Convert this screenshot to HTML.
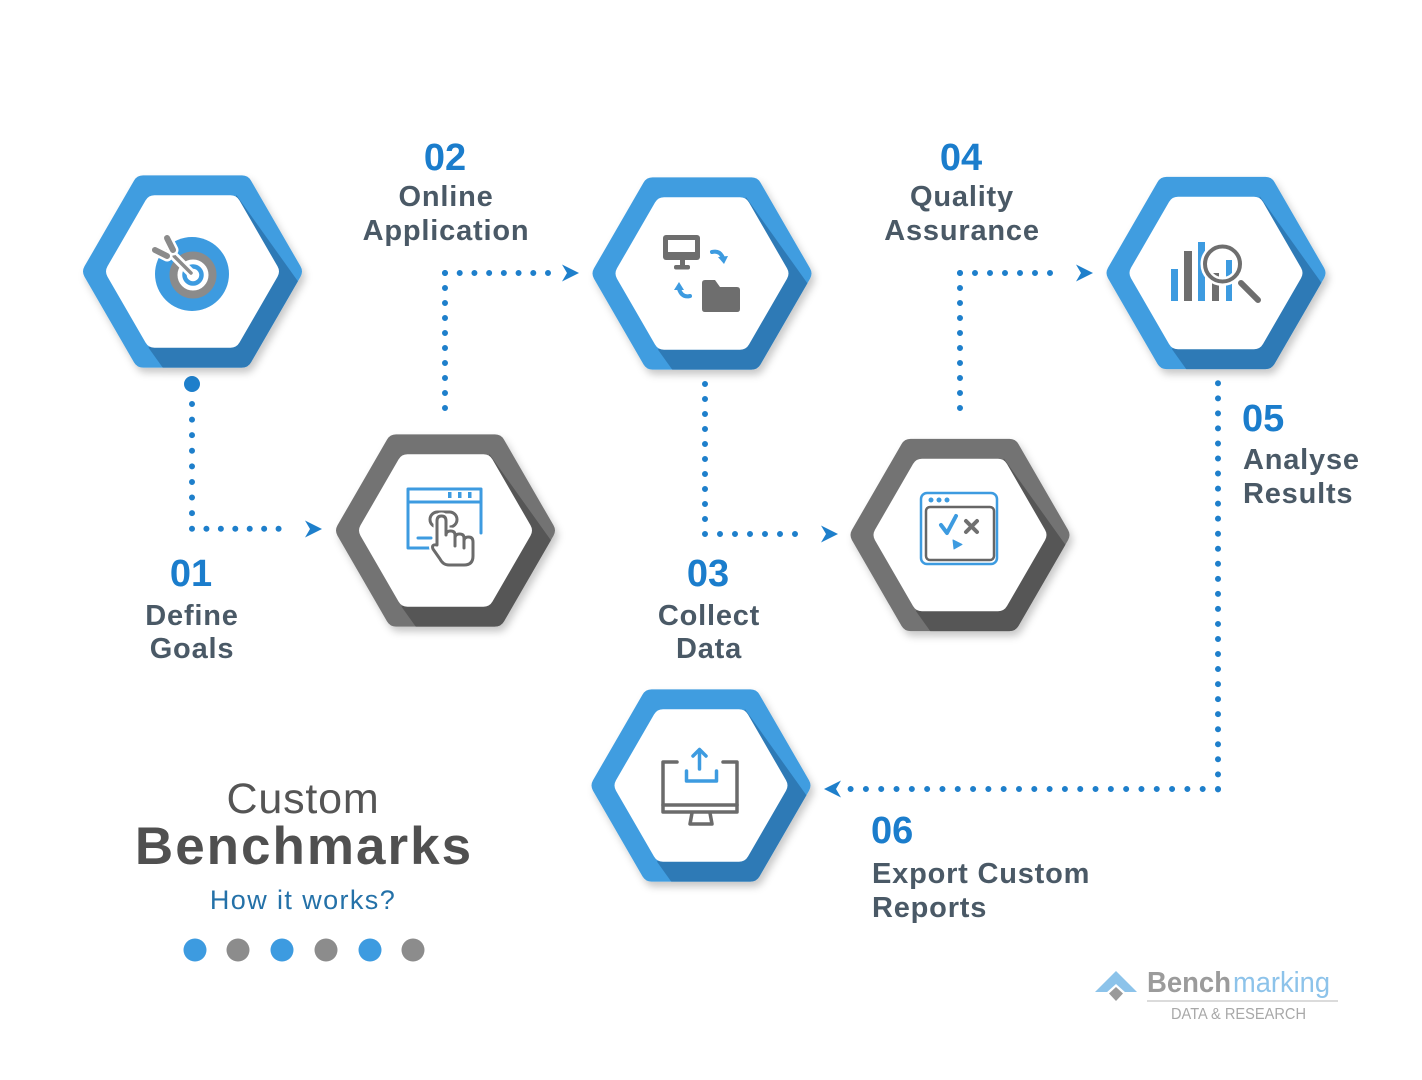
<!DOCTYPE html>
<html>
<head>
<meta charset="utf-8">
<style>
html,body{margin:0;padding:0;background:#fff;}
svg{display:block;}
.num{font-family:"Liberation Sans",sans-serif;font-weight:bold;font-size:38px;fill:#1b7dcc;}
.lbl{font-family:"Liberation Sans",sans-serif;font-weight:bold;font-size:29px;fill:#4a5966;letter-spacing:0.8px;}
</style>
</head>
<body>
<svg width="1422" height="1080" viewBox="0 0 1422 1080" xmlns="http://www.w3.org/2000/svg">
<defs>
  <filter id="sh" x="-30%" y="-30%" width="160%" height="160%">
    <feDropShadow dx="3" dy="5" stdDeviation="4" flood-color="#000" flood-opacity="0.22"/>
  </filter>
  <clipPath id="co">
    <path d="M108,-5.2 Q111,0 108,5.2 L58.5,90.93 Q55.5,96.13 49.5,96.13 L-49.5,96.13 Q-55.5,96.13 -58.5,90.93 L-108,5.2 Q-111,0 -108,-5.2 L-58.5,-90.93 Q-55.5,-96.13 -49.5,-96.13 L49.5,-96.13 Q55.5,-96.13 58.5,-90.93 Z"/>
  </clipPath>
  <g id="hb">
    <path fill="#3f9de0" d="M108,-5.2 Q111,0 108,5.2 L58.5,90.93 Q55.5,96.13 49.5,96.13 L-49.5,96.13 Q-55.5,96.13 -58.5,90.93 L-108,5.2 Q-111,0 -108,-5.2 L-58.5,-90.93 Q-55.5,-96.13 -49.5,-96.13 L49.5,-96.13 Q55.5,-96.13 58.5,-90.93 Z"/>
    <polygon clip-path="url(#co)" fill="#2e7ab6" points="44,-76.2 144,63.8 188,140 144,216.2 56,216.2 -44,76.2"/>
    <path fill="#fff" d="M85,-5.2 Q88,0 85,5.2 L47,71.01 Q44,76.21 38,76.21 L-38,76.21 Q-44,76.21 -47,71.01 L-85,5.2 Q-88,0 -85,-5.2 L-47,-71.01 Q-44,-76.21 -38,-76.21 L38,-76.21 Q44,-76.21 47,-71.01 Z"/>
  </g>
  <g id="hg">
    <path fill="#737373" d="M108,-5.2 Q111,0 108,5.2 L58.5,90.93 Q55.5,96.13 49.5,96.13 L-49.5,96.13 Q-55.5,96.13 -58.5,90.93 L-108,5.2 Q-111,0 -108,-5.2 L-58.5,-90.93 Q-55.5,-96.13 -49.5,-96.13 L49.5,-96.13 Q55.5,-96.13 58.5,-90.93 Z"/>
    <polygon clip-path="url(#co)" fill="#575757" points="44,-76.2 144,63.8 188,140 144,216.2 56,216.2 -44,76.2"/>
    <path fill="#fff" d="M85,-5.2 Q88,0 85,5.2 L47,71.01 Q44,76.21 38,76.21 L-38,76.21 Q-44,76.21 -47,71.01 L-85,5.2 Q-88,0 -85,-5.2 L-47,-71.01 Q-44,-76.21 -38,-76.21 L38,-76.21 Q44,-76.21 47,-71.01 Z"/>
  </g>
</defs>

<!-- connectors -->
<g stroke="#1e7fcb" stroke-width="6" stroke-linecap="round" fill="none">
  <line x1="192" y1="404" x2="192" y2="528.7" stroke-dasharray="0 15.59"/>
  <line x1="192" y1="528.7" x2="293" y2="528.7" stroke-dasharray="0 14.43"/>
  <line x1="445" y1="273" x2="445" y2="423" stroke-dasharray="0 15"/>
  <line x1="445" y1="273" x2="548" y2="273" stroke-dasharray="0 14.714"/>
  <line x1="705" y1="384" x2="705" y2="534" stroke-dasharray="0 15"/>
  <line x1="705" y1="534" x2="810" y2="534" stroke-dasharray="0 15"/>
  <line x1="960" y1="273" x2="960" y2="423" stroke-dasharray="0 15"/>
  <line x1="960" y1="273" x2="1065" y2="273" stroke-dasharray="0 15"/>
  <line x1="1218" y1="383.3" x2="1218" y2="789.4" stroke-dasharray="0 15.04"/>
  <line x1="1218" y1="789" x2="850.6" y2="789" stroke-dasharray="0 15.308"/>
</g>
<circle cx="192" cy="384" r="8" fill="#1e7fcb"/>
<g fill="#1e7fcb">
  <polygon points="305,520.5 322,529 305,537.5 310,529"/>
  <polygon points="562,264.5 579,273 562,281.5 567,273"/>
  <polygon points="821,525.5 838,534 821,542.5 826,534"/>
  <polygon points="1076,264.5 1093,273 1076,281.5 1081,273"/>
  <polygon points="841,780.5 824,789 841,797.5 836,789"/>
</g>

<!-- hexagons -->
<use href="#hb" x="192.5" y="271.5" filter="url(#sh)"/>
<use href="#hg" x="445.5" y="530.5" filter="url(#sh)"/>
<use href="#hb" x="702" y="273.5" filter="url(#sh)"/>
<use href="#hg" x="960" y="535" filter="url(#sh)"/>
<use href="#hb" x="1216" y="273" filter="url(#sh)"/>
<use href="#hb" x="701" y="785.5" filter="url(#sh)"/>

<!-- icon 1: target -->
<g>
  <circle cx="192" cy="274" r="37" fill="#3d9be0"/>
  <circle cx="193" cy="275" r="19.5" fill="#fff" stroke="#8b8b8b" stroke-width="8"/>
  <circle cx="193" cy="275" r="8.5" fill="#fff" stroke="#3d9be0" stroke-width="4.5"/>
  <line x1="191" y1="273" x2="168" y2="250" stroke="#fff" stroke-width="9" stroke-linecap="round"/>
  <line x1="191" y1="273" x2="168" y2="250" stroke="#8b8b8b" stroke-width="3.5" stroke-linecap="round"/>
  <path d="M167,238 L173,250" stroke="#fff" stroke-width="11" stroke-linecap="round"/>
  <path d="M155,250 L167,256" stroke="#fff" stroke-width="11" stroke-linecap="round"/>
  <path d="M167,238 L173,250" stroke="#8b8b8b" stroke-width="6" stroke-linecap="round"/>
  <path d="M155,250 L167,256" stroke="#8b8b8b" stroke-width="6" stroke-linecap="round"/>
</g>

<!-- icon 2: browser + hand -->
<g fill="none" stroke-linecap="round" stroke-linejoin="round">
  <path d="M481,533 L481,489 L408,489 L408,548 L437,548" stroke="#3d9be0" stroke-width="3"/>
  <line x1="408" y1="502" x2="481" y2="502" stroke="#3d9be0" stroke-width="3"/>
  <g fill="#3d9be0" stroke="none">
    <rect x="448" y="492" width="3.5" height="6"/>
    <rect x="458" y="492" width="3.5" height="6"/>
    <rect x="468" y="492" width="3.5" height="6"/>
  </g>
  <line x1="418" y1="538" x2="431" y2="538" stroke="#3d9be0" stroke-width="3"/>
  <rect x="430" y="512" width="27" height="15" rx="7.5" fill="#fff" stroke="#6b6b6b" stroke-width="3"/>
  <path d="M437,545 L437,521 Q437,516 441.5,516 Q446,516 446,521 L446,535 Q446,531 450.5,531 Q455,531 455,535 L455,538 Q455,534 459.5,534 Q464,534 464,538 L464,541 Q464,537 468.5,537 Q473,537 473,542 L473,556 Q473,565 464,565 L449,565 Q443,565 440,559 L433,549 Q431,544 437,545 Z" fill="#fff" stroke="#fff" stroke-width="7"/>
  <path d="M437,545 L437,521 Q437,516 441.5,516 Q446,516 446,521 L446,535 Q446,531 450.5,531 Q455,531 455,535 L455,538 Q455,534 459.5,534 Q464,534 464,538 L464,541 Q464,537 468.5,537 Q473,537 473,542 L473,556 Q473,565 464,565 L449,565 Q443,565 440,559 L433,549 Q431,544 437,545 Z" fill="#fff" stroke="#6b6b6b" stroke-width="3"/>
  <line x1="455" y1="538" x2="455" y2="546" stroke="#6b6b6b" stroke-width="3"/>
  <line x1="464" y1="541" x2="464" y2="548" stroke="#6b6b6b" stroke-width="3"/>
</g>

<!-- icon 3: monitor + folder -->
<g>
  <rect x="663" y="235" width="37" height="25" rx="3" fill="#6e6e6e"/>
  <rect x="668" y="240" width="27" height="12" fill="#fff"/>
  <rect x="680" y="259" width="5" height="7" fill="#6e6e6e"/>
  <rect x="674" y="265" width="16" height="4.5" rx="2" fill="#6e6e6e"/>
  <path d="M702,283 Q702,280 705,280 L715,280 L720,287 L737,287 Q740,287 740,290 L740,309 Q740,312 737,312 L705,312 Q702,312 702,309 Z" fill="#6e6e6e"/>
  <path d="M712,252 Q720,250 723,258" fill="none" stroke="#3d9be0" stroke-width="4" stroke-linecap="round"/>
  <polygon points="718,257 728,256 724,264" fill="#3d9be0"/>
  <path d="M690,296 Q682,298 679,289" fill="none" stroke="#3d9be0" stroke-width="4" stroke-linecap="round"/>
  <polygon points="674,290 679,282 684,290" fill="#3d9be0"/>
</g>

<!-- icon 4: browser check x -->
<g fill="none" stroke-linecap="round" stroke-linejoin="round">
  <rect x="921" y="493" width="76" height="71" rx="6" stroke="#3d9be0" stroke-width="2.5"/>
  <circle cx="931" cy="500" r="2.5" fill="#3d9be0" stroke="none"/>
  <circle cx="939" cy="500" r="2.5" fill="#3d9be0" stroke="none"/>
  <circle cx="947" cy="500" r="2.5" fill="#3d9be0" stroke="none"/>
  <rect x="926" y="507" width="68" height="53" rx="4" stroke="#666" stroke-width="2.5"/>
  <path d="M941,525 L947,533 L956,516" stroke="#3d9be0" stroke-width="4"/>
  <path d="M966,521 L977,532 M977,521 L966,532" stroke="#707070" stroke-width="4"/>
  <polygon points="953,540 962,544.5 954,549" fill="#3d9be0" stroke="#3d9be0" stroke-width="1"/>
</g>

<!-- icon 5: bars + magnifier -->
<g>
  <rect x="1171" y="269" width="7" height="32" fill="#3d9be0"/>
  <rect x="1184" y="251" width="8" height="50" fill="#6e6e6e"/>
  <rect x="1198" y="242" width="7" height="59" fill="#3d9be0"/>
  <rect x="1212" y="273" width="7" height="28" fill="#6e6e6e"/>
  <rect x="1226" y="260" width="6" height="41" fill="#3d9be0"/>
  <circle cx="1222.5" cy="264" r="17.5" fill="none" stroke="#fff" stroke-width="9"/>
  <circle cx="1222.5" cy="264" r="17.5" fill="none" stroke="#6e6e6e" stroke-width="4"/>
  <line x1="1241" y1="283" x2="1258" y2="300" stroke="#6e6e6e" stroke-width="6" stroke-linecap="round"/>
</g>

<!-- icon 6: monitor upload -->
<g fill="none" stroke-linecap="round" stroke-linejoin="round">
  <path d="M677,762 L663,762 L663,812 L737,812 L737,762 L723,762" stroke="#6b6b6b" stroke-width="3.5"/>
  <line x1="663" y1="805" x2="737" y2="805" stroke="#6b6b6b" stroke-width="3.5"/>
  <path d="M692,813 L690,824 L712,824 L710,813" stroke="#6b6b6b" stroke-width="3.5"/>
  <line x1="699.5" y1="750" x2="699.5" y2="769" stroke="#3d9be0" stroke-width="3.5"/>
  <path d="M693,756 L699.5,749.5 L706,756" stroke="#3d9be0" stroke-width="3.5"/>
  <path d="M686.5,771 L686.5,781 L716.5,781 L716.5,771" stroke="#3d9be0" stroke-width="3.5"/>
</g>

<!-- labels -->
<text class="num" x="445" y="170" text-anchor="middle">02</text>
<text class="lbl" x="446" y="206" text-anchor="middle">Online</text>
<text class="lbl" x="446" y="240" text-anchor="middle">Application</text>

<text class="num" x="961" y="170" text-anchor="middle">04</text>
<text class="lbl" x="962" y="206" text-anchor="middle">Quality</text>
<text class="lbl" x="962" y="240" text-anchor="middle">Assurance</text>

<text class="num" x="191" y="586" text-anchor="middle">01</text>
<text class="lbl" x="192" y="625" text-anchor="middle">Define</text>
<text class="lbl" x="192" y="658" text-anchor="middle">Goals</text>

<text class="num" x="708" y="586" text-anchor="middle">03</text>
<text class="lbl" x="709" y="625" text-anchor="middle">Collect</text>
<text class="lbl" x="709" y="658" text-anchor="middle">Data</text>

<text class="num" x="1242" y="431">05</text>
<text class="lbl" x="1243" y="469">Analyse</text>
<text class="lbl" x="1243" y="503">Results</text>

<text class="num" x="871" y="843">06</text>
<text class="lbl" x="872" y="883">Export Custom</text>
<text class="lbl" x="872" y="917">Reports</text>

<!-- title -->
<text x="303" y="813" text-anchor="middle" font-family="Liberation Sans, sans-serif" font-size="43" fill="#555" letter-spacing="0.8">Custom</text>
<text x="304" y="864" text-anchor="middle" font-family="Liberation Sans, sans-serif" font-weight="bold" font-size="53" fill="#505050" letter-spacing="2">Benchmarks</text>
<text x="303" y="909" text-anchor="middle" font-family="Liberation Sans, sans-serif" font-size="27" fill="#2471a8" letter-spacing="1.4">How it works?</text>

<circle cx="195" cy="950" r="11.5" fill="#3d9be0"/>
<circle cx="238" cy="950" r="11.5" fill="#8c8c8c"/>
<circle cx="282" cy="950" r="11.5" fill="#3d9be0"/>
<circle cx="326" cy="950" r="11.5" fill="#8c8c8c"/>
<circle cx="370" cy="950" r="11.5" fill="#3d9be0"/>
<circle cx="413" cy="950" r="11.5" fill="#8c8c8c"/>

<!-- logo -->
<polygon points="1095,992 1116,971 1137,992" fill="#8cc3ea"/>
<polygon points="1116,984 1126,993 1116,1003 1106,993" fill="#fff"/>
<polygon points="1116,987 1123,993.5 1116,1001 1109,993.5" fill="#9a9a9a"/>
<text x="1147" y="992" font-family="Liberation Sans, sans-serif" font-weight="bold" font-size="29" fill="#9b9b9b" textLength="84" lengthAdjust="spacingAndGlyphs">Bench</text>
<text x="1233" y="992" font-family="Liberation Sans, sans-serif" font-size="29" fill="#8dc3ea" textLength="97" lengthAdjust="spacingAndGlyphs">marking</text>
<line x1="1147" y1="1001" x2="1338" y2="1001" stroke="#cfcfcf" stroke-width="1.5"/>
<text x="1171" y="1019" font-family="Liberation Sans, sans-serif" font-size="16" fill="#a8a8a8" textLength="135" lengthAdjust="spacingAndGlyphs">DATA &amp; RESEARCH</text>
</svg>
</body>
</html>
